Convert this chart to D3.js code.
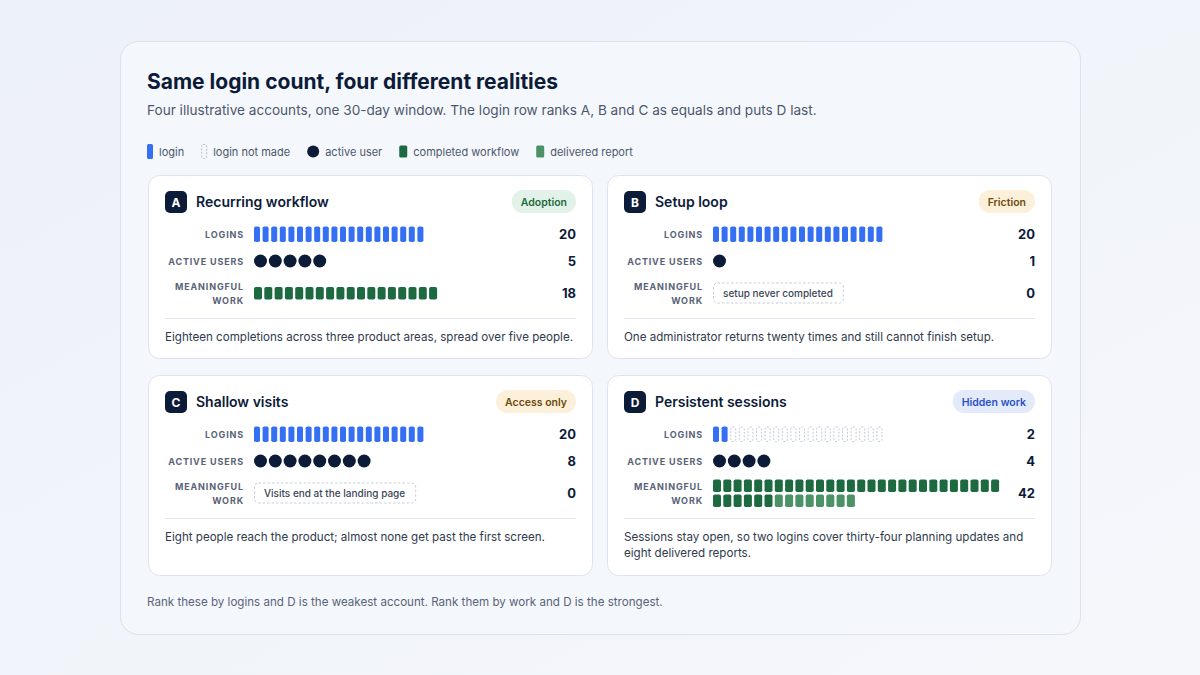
<!DOCTYPE html>
<html>
<head>
<meta charset="utf-8">
<script src="https://cdn.jsdelivr.net/npm/d3@7"></script>
<style>
  html, body { margin: 0; padding: 0; background: #f1f4fa; }
  svg { display: block; font-family: Inter, "Noto Sans", sans-serif; }
</style>
</head>
<body>
<div id="chart"></div>
<script>
// data
var accounts = ["A", "B", "C", "D"];
var titles = ["Recurring workflow", "Setup loop", "Shallow visits", "Persistent sessions"];
var tags = ["Adoption", "Friction", "Access only", "Hidden work"];
var loginSlots = 20;
var logins = [20, 20, 20, 2];
var activeUsers = [5, 1, 8, 4];
var workflows = [18, 0, 0, 34];
var reports = [0, 0, 0, 8];
var emptyWork = ["", "setup never completed", "Visits end at the landing page", ""];
var notes = [
  "Eighteen completions across three product areas, spread over five people.",
  "One administrator returns twenty times and still cannot finish setup.",
  "Eight people reach the product; almost none get past the first screen.",
  "Sessions stay open, so two logins cover thirty-four planning updates and eight delivered reports."
];
var rowLabels = [["LOGINS"], ["ACTIVE USERS"], ["MEANINGFUL", "WORK"]];
var legendItems = ["login", "login not made", "active user", "completed workflow", "delivered report"];

// styles
var navy = "#0c1b38", blue = "#3570f3", dark = "#1d6a40", light = "#4b9266",
    muted = "#596377", text = "#2f3a4d";
var tagFill = ["#e2f2e8", "#fdf0da", "#fdf0da", "#e3ebfb"];
var tagText = ["#1e6a3d", "#6e4a0e", "#6e4a0e", "#2b50c8"];

var width = 1200, height = 675;
var svg = d3.select("#chart").append("svg")
    .attr("width", width)
    .attr("height", height);

var defs = svg.append("defs");
var grad = defs.append("linearGradient").attr("id", "bg")
    .attr("x1", 0).attr("y1", 0).attr("x2", 1).attr("y2", 1);
grad.append("stop").attr("offset", "0%").attr("stop-color", "#edf1f8");
grad.append("stop").attr("offset", "100%").attr("stop-color", "#f5f7fb");
svg.append("rect").attr("width", width).attr("height", height).attr("fill", "url(#bg)");

// panel
svg.append("rect")
    .attr("x", 120.5).attr("y", 41.5).attr("width", 960).attr("height", 593)
    .attr("rx", 18)
    .attr("fill", "#f4f7fc").attr("stroke", "#dbe2ed");

svg.append("text")
    .attr("x", 147).attr("y", 89)
    .attr("font-size", "21px").attr("font-weight", 700).attr("fill", navy)
    .text("Same login count, four different realities");
svg.append("text")
    .attr("x", 147).attr("y", 115)
    .attr("font-size", "13.6px").attr("fill", "#4d586b")
    .text("Four illustrative accounts, one 30-day window. The login row ranks A, B and C as equals and puts D last.");

// legend
var lg = svg.append("g").attr("transform", "translate(147,151)");
var lx = 0;
legendItems.forEach(function(name, i) {
  var item = lg.append("g").attr("transform", "translate(" + lx + ",0)");
  var mw = 6;
  if (i == 0) {
    item.append("rect").attr("x", 0).attr("y", -7).attr("width", 6).attr("height", 15).attr("rx", 1.5).attr("fill", blue);
  } else if (i == 1) {
    item.append("rect").attr("x", 0.5).attr("y", -6.5).attr("width", 5).attr("height", 14).attr("rx", 1.5)
        .attr("fill", "none").attr("stroke", "#b9c2d2").attr("stroke-dasharray", "2,1.5");
  } else if (i == 2) {
    mw = 12;
    item.append("circle").attr("cx", 6).attr("cy", 0.5).attr("r", 6).attr("fill", navy);
  } else {
    mw = 8;
    item.append("rect").attr("x", 0).attr("y", -5.5).attr("width", 8).attr("height", 12).attr("rx", 1.5)
        .attr("fill", i == 3 ? dark : light);
  }
  var t = item.append("text").attr("x", mw + 6).attr("y", 4.5)
      .attr("font-size", "11px").attr("fill", "#4d586b").text(name);
  lx += mw + 6 + t.node().getComputedTextLength() + 17;
});

// cards layout
var colX = [148, 607], rowY = [175, 375], rowH = [184, 201], cardW = 445;

// unit scales (per mark index)
var xLogin = d3.scaleLinear().domain([0, 1]).range([0, 8.6]);
var xDot = d3.scaleLinear().domain([0, 1]).range([0, 14.8]);
var xWork = d3.scaleLinear().domain([0, 1]).range([0, 10.3]);
var perRow = 28;

function wrap(sel, str, maxW, lh) {
  var words = str.split(" "), lineStr = "";
  var tspan = sel.append("tspan").attr("x", sel.attr("x")).attr("dy", 0);
  words.forEach(function(w) {
    var test = lineStr ? lineStr + " " + w : w;
    tspan.text(test);
    if (tspan.node().getComputedTextLength() > maxW && lineStr) {
      tspan.text(lineStr);
      lineStr = w;
      tspan = sel.append("tspan").attr("x", sel.attr("x")).attr("dy", lh).text(w);
    } else {
      lineStr = test;
    }
  });
}

accounts.forEach(function(a, i) {
  var cx = colX[i % 2], cy = rowY[Math.floor(i / 2)], ch = rowH[Math.floor(i / 2)];
  var g = svg.append("g").attr("transform", "translate(" + cx + "," + cy + ")");
  g.append("rect").attr("x", 0.5).attr("y", 0.5).attr("width", cardW - 1).attr("height", ch - 1)
      .attr("rx", 11).attr("fill", "#ffffff").attr("stroke", "#dde4ef");

  // header
  g.append("rect").attr("x", 17).attr("y", 16).attr("width", 22).attr("height", 22).attr("rx", 5).attr("fill", navy);
  g.append("text").attr("x", 28).attr("y", 31.5).attr("text-anchor", "middle")
      .attr("font-size", "12px").attr("font-weight", 700).attr("fill", "#fff").text(a);
  g.append("text").attr("x", 48).attr("y", 32)
      .attr("font-size", "14px").attr("font-weight", 600).attr("fill", navy).text(titles[i]);

  var pt = g.append("text").attr("y", 30.5).attr("text-anchor", "middle")
      .attr("font-size", "10.5px").attr("font-weight", 600).attr("fill", tagText[i]).text(tags[i]);
  var pw = pt.node().getComputedTextLength() + 18;
  var right = cardW - 17;
  g.insert("rect", "text:last-of-type")
      .attr("x", right - pw).attr("y", 15).attr("width", pw).attr("height", 23).attr("rx", 11.5)
      .attr("fill", tagFill[i]);
  pt.attr("x", right - pw / 2).raise();

  // row labels
  var labelX = 96, markX = 106;
  var rowC = [59, 86, 118];
  rowLabels.forEach(function(lbl, r) {
    lbl.forEach(function(s, k) {
      var y = lbl.length == 1 ? rowC[r] + 3.5 : rowC[r] - 3.5 + k * 14;
      g.append("text").attr("x", labelX).attr("y", y).attr("text-anchor", "end")
          .attr("font-size", "9px").attr("font-weight", 700).attr("letter-spacing", "0.85px")
          .attr("fill", muted).text(s);
    });
  });

  // logins
  var lgG = g.append("g").attr("transform", "translate(" + markX + "," + (rowC[0] - 7.5) + ")");
  lgG.selectAll("rect").data(d3.range(loginSlots)).join("rect")
      .attr("x", function(d) { return xLogin(d) + (d < logins[i] ? 0 : 0.5); })
      .attr("y", function(d) { return d < logins[i] ? 0 : 0.5; })
      .attr("width", function(d) { return d < logins[i] ? 6 : 5; })
      .attr("height", function(d) { return d < logins[i] ? 15.5 : 14.5; })
      .attr("rx", 1.8)
      .attr("fill", function(d) { return d < logins[i] ? blue : "none"; })
      .attr("stroke", function(d) { return d < logins[i] ? "none" : "#c3cad8"; })
      .attr("stroke-dasharray", "2,1.5");

  // active users
  g.append("g").attr("transform", "translate(" + (markX + 6.5) + "," + rowC[1] + ")")
    .selectAll("circle").data(d3.range(activeUsers[i])).join("circle")
      .attr("cx", function(d) { return xDot(d); })
      .attr("cy", 0).attr("r", 6.5).attr("fill", navy);

  // meaningful work
  var total = workflows[i] + reports[i];
  if (total > 0) {
    var units = d3.range(total);
    var nRows = Math.ceil(total / perRow);
    var top = nRows == 1 ? rowC[2] - 6 : rowC[2] - 13.5;
    g.append("g").attr("transform", "translate(" + markX + "," + top + ")")
      .selectAll("rect").data(units).join("rect")
        .attr("x", function(d) { return xWork(d % perRow); })
        .attr("y", function(d) { return Math.floor(d / perRow) * 15; })
        .attr("width", 8).attr("height", 12.5).attr("rx", 1.8)
        .attr("fill", function(d) { return d < workflows[i] ? dark : light; });
  } else {
    var bt = g.append("text").attr("x", markX + 10).attr("y", rowC[2] + 3.5)
        .attr("font-size", "10px").attr("font-weight", 500).attr("fill", "#3b4557").text(emptyWork[i]);
    var bw = bt.node().getComputedTextLength() + 20;
    g.insert("rect", "text:last-of-type")
        .attr("x", markX + 0.5).attr("y", rowC[2] - 10).attr("width", bw).attr("height", 20).attr("rx", 4)
        .attr("fill", "#fff").attr("stroke", "#c6cdd9").attr("stroke-dasharray", "2.5,2");
    bt.raise();
  }

  // values
  [logins[i], activeUsers[i], total].forEach(function(v, r) {
    g.append("text").attr("x", right).attr("y", rowC[r] + 4.5).attr("text-anchor", "end")
        .attr("font-size", "13px").attr("font-weight", 700).attr("fill", navy).text(v);
  });

  g.append("line").attr("x1", 17).attr("x2", right).attr("y1", 143.5).attr("y2", 143.5)
      .attr("stroke", "#e4e8f0");

  var nt = g.append("text").attr("x", 17).attr("y", 166)
      .attr("font-size", "11.6px").attr("fill", text);
  wrap(nt, notes[i], right - 11, 16);
});

svg.append("text")
    .attr("x", 147).attr("y", 606)
    .attr("font-size", "11.6px").attr("fill", "#5a6478")
    .text("Rank these by logins and D is the weakest account. Rank them by work and D is the strongest.");
</script>
</body>
</html>
